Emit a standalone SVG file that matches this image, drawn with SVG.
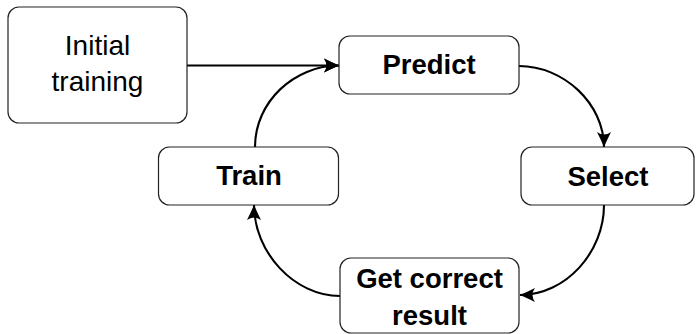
<svg xmlns="http://www.w3.org/2000/svg" width="696" height="334" viewBox="0 0 696 334">
  <defs>
    <marker id="head" markerUnits="userSpaceOnUse" markerWidth="18" markerHeight="16" refX="15" refY="8" orient="auto" overflow="visible">
      <path d="M15,8 Q7,4.5 0,1 Q5,8 0,15 Q7,11.5 15,8 Z" fill="#000"/>
    </marker>
  </defs>
  <style>
    .box { fill: #fff; stroke: #222; stroke-width: 1.2; }
    .lbl { font-family: "Liberation Sans", Arial, sans-serif; font-size: 28px; fill: #000; text-anchor: middle; }
    .bold { font-weight: bold; font-size: 27.5px; }
    .edge { fill: none; stroke: #000; stroke-width: 2.1; marker-end: url(#head); }
  </style>

  <g id="connectors">
    <path class="edge" d="M187,65.5 L339,65.5"/>
    <path class="edge" d="M519,66 C564,66 604,104 604,147"/>
    <path class="edge" d="M604,205 C604,252 566,295 520,295"/>
    <path class="edge" d="M340,296 C294,296 254,252 254,205"/>
    <path class="edge" d="M255,147 C255,102 294,65.5 339,65.5"/>
  </g>

  <g id="initial">
    <rect class="box" x="8" y="7" width="179" height="116" rx="11"/>
    <text class="lbl" x="97.5" y="55">Initial</text>
    <text class="lbl" x="97.5" y="91">training</text>
  </g>

  <g id="predict">
    <rect class="box" x="339" y="36" width="180" height="58" rx="11"/>
    <text class="lbl bold" x="429" y="74">Predict</text>
  </g>

  <g id="select">
    <rect class="box" x="521" y="147" width="173" height="58" rx="11"/>
    <text class="lbl bold" x="608" y="186">Select</text>
  </g>

  <g id="get-correct-result">
    <rect class="box" x="340" y="258" width="179" height="75" rx="11"/>
    <text class="lbl bold" x="429.5" y="288">Get correct</text>
    <text class="lbl bold" x="429.5" y="325">result</text>
  </g>

  <g id="train">
    <rect class="box" x="158.5" y="147" width="180" height="58" rx="11"/>
    <text class="lbl bold" x="249" y="185">Train</text>
  </g>
</svg>
